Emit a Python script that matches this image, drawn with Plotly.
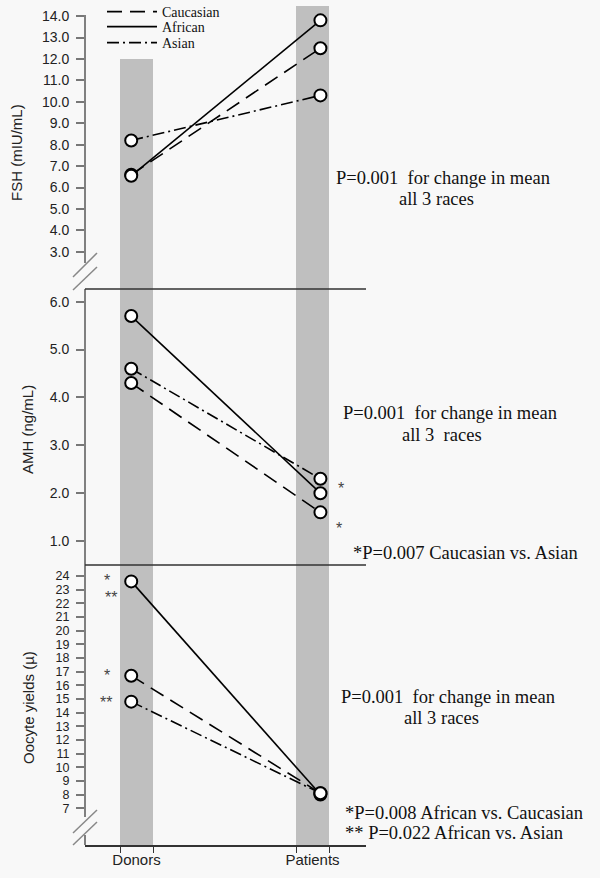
import plotly.graph_objects as go

# ---------------- data ----------------
categories = ["Donors", "Patients"]
races = ["Caucasian", "African", "Asian"]

fsh_caucasian = [6.6, 12.5]
fsh_african = [6.55, 13.8]
fsh_asian = [8.2, 10.3]

amh_caucasian = [4.3, 1.6]
amh_african = [5.7, 2.0]
amh_asian = [4.6, 2.3]

oocyte_caucasian = [16.7, 8.1]
oocyte_african = [23.6, 8.0]
oocyte_asian = [14.8, 8.1]

fsh_column_top = [12.0, 14.6]      # grey column tops in FSH panel

fsh_ticks = [3, 4, 5, 6, 7, 8, 9, 10, 11, 12, 13, 14]
amh_ticks = [1, 2, 3, 4, 5, 6]
oocyte_ticks = list(range(7, 25))

# ---------------- layout constants ----------------
W, H = 600, 878
ML, MR, MT, MB = 85, 234, 6, 33
PW = W - ML - MR
PH = H - MT - MB


def px_x(px):
    return (px - ML) / PW


def px_y(py):
    return (H - MB - py) / PH


fsh_range = [1.27, 14.47]
amh_range = [0.50, 6.265]
oocyte_range = [4.31, 24.80]
x_range = [-0.2926, 1.304]
col_width = 0.1875
point_offset = [-0.03, 0.045]

SANS = "Liberation Sans, Arial, sans-serif"
SERIF = "Liberation Serif, Times New Roman, serif"
GREY_COL = "#bfbfbf"
BG = "#f8f8f8"

dash_style = {
    "Caucasian": "15px,8px",
    "African": "solid",
    "Asian": "12px,4px,2px,4px",
}
legend_ids = {"Caucasian": "legend", "African": "legend2", "Asian": "legend3"}
legend_rows = {"Caucasian": 12, "African": 27, "Asian": 43}

cat_pos = list(range(len(categories)))
pt_x = [c + o for c, o in zip(cat_pos, point_offset)]

fig = go.Figure()

# grey columns
fig.add_trace(go.Bar(x=cat_pos, y=[t - fsh_range[0] for t in fsh_column_top],
                     base=fsh_range[0], width=col_width, marker_color=GREY_COL,
                     marker_line_width=0, showlegend=False, hoverinfo="skip",
                     xaxis="x", yaxis="y"))
fig.add_trace(go.Bar(x=cat_pos, y=[amh_range[1] - amh_range[0]] * 2,
                     base=amh_range[0], width=col_width, marker_color=GREY_COL,
                     marker_line_width=0, showlegend=False, hoverinfo="skip",
                     xaxis="x", yaxis="y2"))
fig.add_trace(go.Bar(x=cat_pos, y=[oocyte_range[1] - oocyte_range[0]] * 2,
                     base=oocyte_range[0], width=col_width, marker_color=GREY_COL,
                     marker_line_width=0, showlegend=False, hoverinfo="skip",
                     xaxis="x", yaxis="y3"))

panels = [
    ("y", {"Caucasian": fsh_caucasian, "African": fsh_african, "Asian": fsh_asian}),
    ("y2", {"Caucasian": amh_caucasian, "African": amh_african, "Asian": amh_asian}),
    ("y3", {"Caucasian": oocyte_caucasian, "African": oocyte_african, "Asian": oocyte_asian}),
]

for yax, series in panels:
    for race in races:
        fig.add_trace(go.Scatter(
            x=pt_x, y=series[race], mode="lines+markers", name=race,
            line=dict(color="black", width=1.6, dash=dash_style[race]),
            marker=dict(symbol="circle", size=12, color="white",
                        line=dict(color="black", width=2)),
            showlegend=False, xaxis="x", yaxis=yax))

# legend-only entries (lines only), one legend per row for exact spacing
for race in races:
    fig.add_trace(go.Scatter(
        x=[None], y=[None], mode="lines", name=race,
        line=dict(color="black", width=1.8, dash=dash_style[race]),
        showlegend=True, legend=legend_ids[race], xaxis="x", yaxis="y"))

legend_common = dict(xanchor="left", yanchor="middle", bgcolor="rgba(0,0,0,0)",
                     font=dict(family=SERIF, size=14, color="#111"), itemwidth=50)

ytick_common = dict(
    showline=False, showgrid=False, zeroline=False, automargin=False,
    ticks="outside", ticklen=8, tickwidth=1.5, tickcolor="#777",
    tickmode="array", ticklabelstandoff=4,
)

fig.update_layout(
    width=W, height=H,
    margin=dict(l=ML, r=MR, t=MT, b=MB, autoexpand=False),
    paper_bgcolor=BG, plot_bgcolor=BG,
    barmode="overlay",
    showlegend=True,
    legend=dict(x=px_x(102), y=px_y(legend_rows["Caucasian"]), **legend_common),
    legend2=dict(x=px_x(102), y=px_y(legend_rows["African"]), **legend_common),
    legend3=dict(x=px_x(102), y=px_y(legend_rows["Asian"]), **legend_common),
    xaxis=dict(anchor="y3", range=x_range, showgrid=False, zeroline=False,
               automargin=False,
               showline=True, linecolor="#333", linewidth=1.5,
               tickmode="array", tickvals=cat_pos, ticktext=categories,
               ticks="outside", ticklen=0,
               tickfont=dict(family=SANS, size=15, color="#222"),
               minor=dict(tickmode="array",
                          tickvals=[c + s * col_width / 2 for c in cat_pos for s in (-1, 1)],
                          ticks="outside", ticklen=6, tickwidth=1.2, tickcolor="#333")),
    yaxis=dict(domain=[px_y(289), 1], range=fsh_range, tickvals=fsh_ticks,
               tickformat=".1f", tickfont=dict(family=SANS, size=14, color="#222"),
               **ytick_common),
    yaxis2=dict(domain=[px_y(565), px_y(289)], range=amh_range, tickvals=amh_ticks,
                tickformat=".1f", tickfont=dict(family=SANS, size=14, color="#222"),
                **ytick_common),
    yaxis3=dict(domain=[0, px_y(565)], range=oocyte_range, tickvals=oocyte_ticks,
                tickformat="d", tickfont=dict(family=SANS, size=12.5, color="#222"),
                **ytick_common),
)

shapes = []
axis_col = "#808080"
# left axis segments with breaks
for y0, y1 in [(15, 263), (289, 565), (565, 817), (835, 845)]:
    shapes.append(dict(type="line", xref="paper", yref="paper", x0=0, x1=0,
                       y0=px_y(y0), y1=px_y(y1), line=dict(color=axis_col, width=2)))
for (xa, ya), (xb, yb) in [((73, 277), (97, 253)), ((73, 290), (97, 267)),
                           ((73, 833), (97, 810)), ((73, 845), (97, 822))]:
    shapes.append(dict(type="line", xref="paper", yref="paper", x0=px_x(xa), x1=px_x(xb),
                       y0=px_y(ya), y1=px_y(yb), line=dict(color="#888", width=1.5)))
# panel divider lines
for py in (289, 565):
    shapes.append(dict(type="line", xref="paper", yref="paper", x0=0, x1=1,
                       y0=px_y(py), y1=px_y(py), line=dict(color="#333", width=1.5)))
fig.update_layout(shapes=shapes)

ann = []


def text_at(txt, px, py, size=18.5, anchor="center", family=SERIF, color="#111"):
    ann.append(dict(text=txt, xref="paper", yref="paper", x=px_x(px), y=px_y(py),
                    xanchor=anchor, yanchor="middle", showarrow=False,
                    font=dict(family=family, size=size, color=color)))


# y-axis titles
for txt, px, py in [("FSH (mIU/mL)", 17, 153), ("AMH (ng/mL)", 27, 430),
                    ("Oocyte yields (µ)", 28, 707)]:
    ann.append(dict(text=txt, xref="paper", yref="paper", x=px_x(px), y=px_y(py),
                    xanchor="center", yanchor="middle", textangle=-90, showarrow=False,
                    font=dict(family=SANS, size=15, color="#222")))

text_at("P=0.001  for change in mean", 443, 178)
text_at("all 3 races", 436, 199)
text_at("P=0.001  for change in mean", 450, 413)
text_at("all 3  races", 442, 435)
text_at("*P=0.007 Caucasian vs. Asian", 465, 553)
text_at("P=0.001  for change in mean", 448, 697)
text_at("all 3 races", 441, 718)
text_at("*P=0.008 African vs. Caucasian", 343, 813, anchor="left")
text_at("** P=0.022 African vs. Asian", 343, 833, anchor="left")

# significance stars
for txt, px, py in [("*", 341, 483), ("*", 339, 523),
                    ("*", 107, 575), ("**", 111, 592),
                    ("*", 107, 670), ("**", 106, 697)]:
    text_at(txt, px, py + 5, size=16, family=SANS, color="#444")

fig.update_layout(annotations=ann)

fig.write_html("out.html", config={"displayModeBar": False},
               post_script="document.body.style.margin='0px';document.body.style.overflow='hidden';")
